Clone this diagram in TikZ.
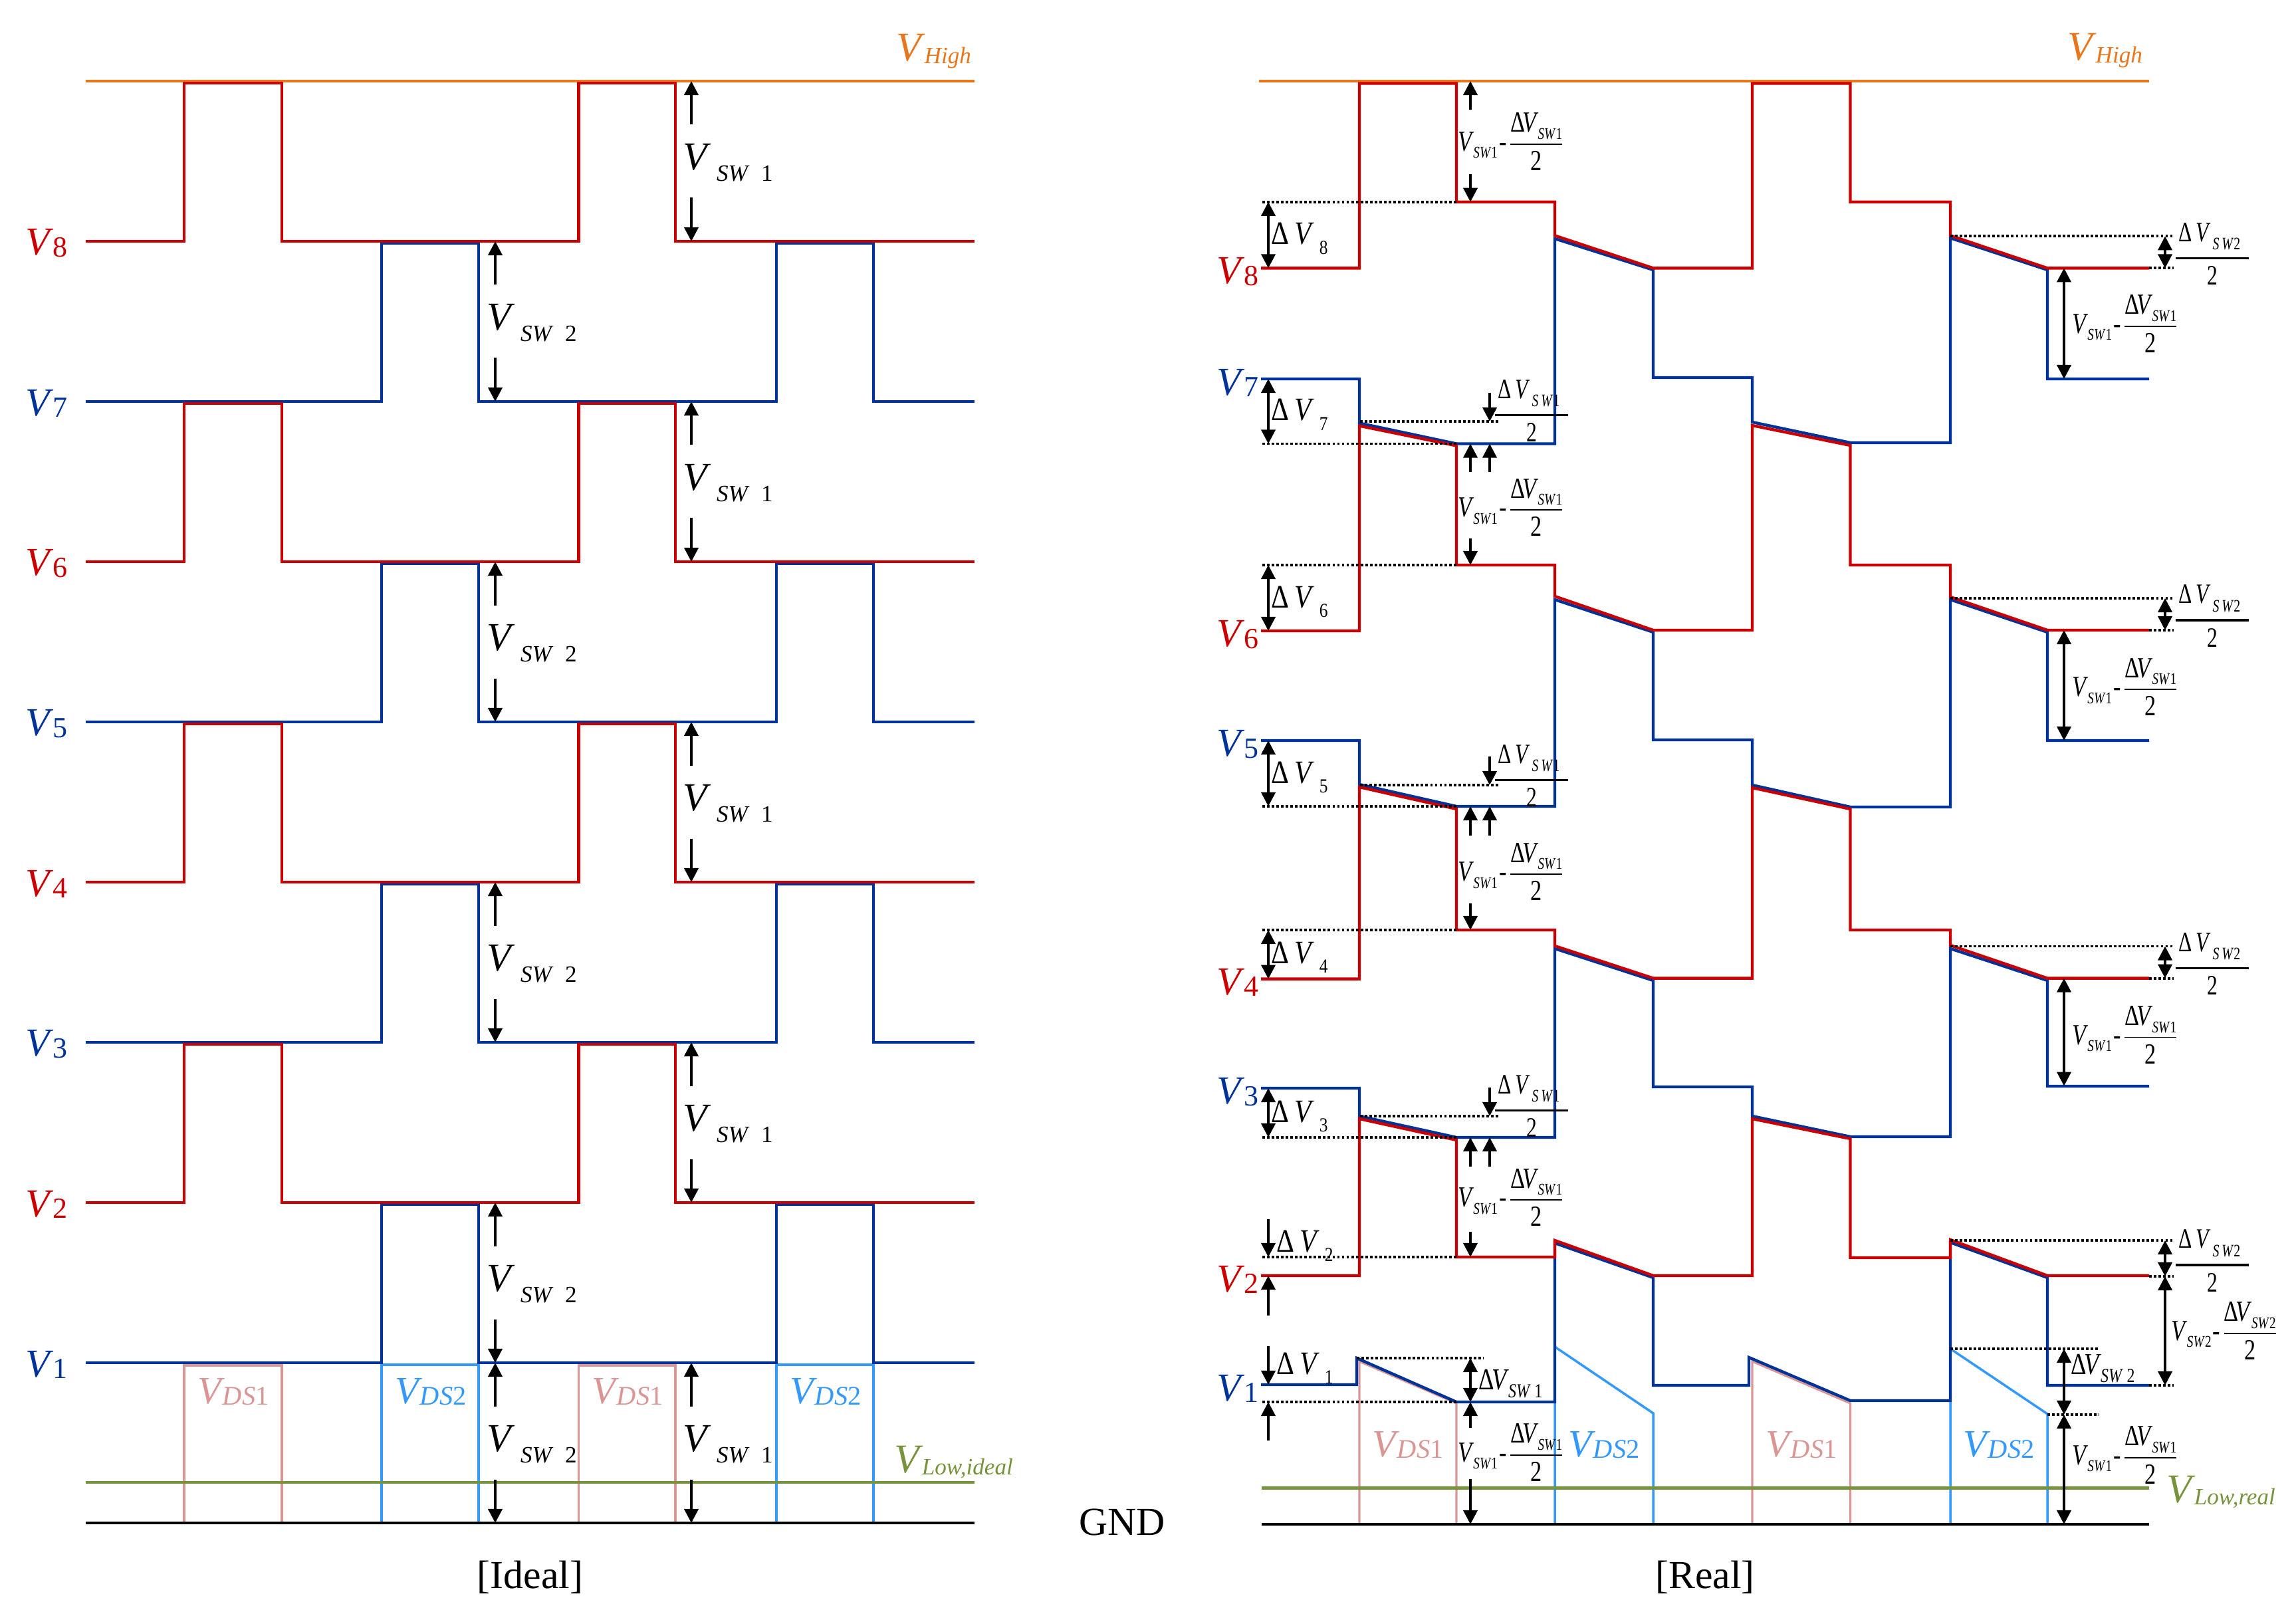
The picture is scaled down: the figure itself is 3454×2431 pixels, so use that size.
\documentclass[tikz,border=0pt]{standalone}
\usepackage{fontspec}
\setmainfont{Liberation Serif}
\usepackage{amsmath}
\usepackage{graphicx}
\usetikzlibrary{arrows.meta}

\definecolor{wred}{RGB}{204,0,0}
\definecolor{wblue}{RGB}{0,51,153}
\definecolor{worange}{RGB}{232,118,28}
\definecolor{wgreen}{RGB}{119,147,60}
\definecolor{wpink}{RGB}{217,150,148}
\definecolor{wlblue}{RGB}{51,153,255}

\newcommand\fsz[1]{\fontsize{#1}{#1}\selectfont}
\newcommand\LevLab[1]{\fsz{17}\textit{V}\kern-0.6pt\raisebox{-0.8pt}{\fsz{12.5}#1}}
\newcommand\RailLab[1]{\fsz{17.5}\textit{V}\kern-0.5pt\raisebox{-1pt}{\fsz{10}\textit{#1}}}
\newcommand\DsLab[1]{\fsz{16.5}\textit{V}\kern-1pt\raisebox{-0.8pt}{\fsz{11.5}\textit{DS}#1}}
\newcommand\SwLab[1]{\fsz{17}\textit{V}\kern2.5pt\raisebox{-4.8pt}{\fsz{10}\textit{SW}\kern5pt#1}}
\newcommand\DvLab[1]{\scalebox{0.85}[1]{\fsz{14}Δ\kern3pt\textit{V}\kern2.5pt\raisebox{-4pt}{\fsz{8.5}#1}}}
\newcommand\SubSW[1]{\raisebox{-3pt}{\fsz{7}\textit{SW}#1}}
\newcommand\MinusFrac[1]{\scalebox{0.78}[1]{\fsz{12.5}\textit{V}\kern-0.3pt\SubSW{#1}\kern0.8pt-\kern0.8pt$\dfrac{\text{Δ\kern-1.5pt\textit{V}\kern-0.3pt\SubSW{#1}}}{\text{2}}$}}
\newcommand\HalfFrac[1]{\scalebox{0.75}[1]{\fsz{12}$\genfrac{}{}{1pt}{0}{\text{\kern2pt Δ\kern2pt\textit{V}\kern1pt\raisebox{-3.5pt}{\fsz{7.5}\textit{S\kern1.5pt W}#1}\kern5pt}}{\text{2}}$}}
\newcommand\DvSw[1]{\scalebox{0.8}[1]{\fsz{13}Δ\kern-1pt\textit{V}\kern-0.5pt\raisebox{-3.5pt}{\fsz{8.5}\textit{SW}\kern2pt#1}}}

\tikzset{
  wave/.style={line width=1.25pt, line join=miter},
  railhigh/.style={line width=1.1pt, draw=worange},
  raillow/.style={line width=1.3pt, draw=wgreen},
  gndline/.style={line width=1.3pt, draw=black},
  vdsa/.style={line width=0.9pt, draw=wpink},
  vdsb/.style={line width=1.0pt, draw=wlblue},
  dotline/.style={line width=1.1pt, dash pattern=on 1.1pt off 0.9pt},
  onearrow/.style={line width=1.1pt, -{Triangle[length=6pt,width=6pt]}},
  twoarrow/.style={line width=1.1pt, {Triangle[length=6pt,width=6pt]}-{Triangle[length=6pt,width=6pt]}},
  lab/.style={inner sep=0pt, outer sep=0pt},
}

\begin{document}
\begin{tikzpicture}[x=0.01cm, y=-0.01cm]
\useasboundingbox (0,0) rectangle (3454,2431);

%================ LEFT PANEL (ideal) ================
\draw[vdsa] (277,2291) -- (277,2054) -- (424,2054) -- (424,2291);
\draw[vdsa] (870.5,2291) -- (870.5,2054) -- (1016,2054) -- (1016,2291);
\draw[vdsb] (574,2291) -- (574,2053) -- (720,2053) -- (720,2291);
\draw[vdsb] (1168,2291) -- (1168,2053) -- (1314,2053) -- (1314,2291);
\draw[raillow] (129,2230) -- (1466,2230);
\draw[railhigh] (129,122) -- (1466,122);
\foreach \b/\h in {604/366, 1086/848, 1568/1330, 2050/1812}
  \draw[wave, wblue] (129,\b) -- (574,\b) -- (574,\h) -- (720,\h) -- (720,\b) -- (1168,\b) -- (1168,\h) -- (1314,\h) -- (1314,\b) -- (1466,\b);
\foreach \b/\h in {363/125, 845/607, 1327/1089, 1809/1571}
  \draw[wave, wred] (129,\b) -- (277,\b) -- (277,\h) -- (424,\h) -- (424,\b) -- (870.5,\b) -- (870.5,\h) -- (1016,\h) -- (1016,\b) -- (1466,\b);
\draw[gndline] (129,2291) -- (1466,2291);

\node[lab, anchor=east, text=wred]  (lv8) at (101,366)  {\LevLab{8}};
\node[lab, anchor=east, text=wblue] (lv7) at (101,607)  {\LevLab{7}};
\node[lab, anchor=east, text=wred]  (lv6) at (101,848)  {\LevLab{6}};
\node[lab, anchor=east, text=wblue] (lv5) at (101,1089) {\LevLab{5}};
\node[lab, anchor=east, text=wred]  (lv4) at (101,1330) {\LevLab{4}};
\node[lab, anchor=east, text=wblue] (lv3) at (101,1571) {\LevLab{3}};
\node[lab, anchor=east, text=wred]  (lv2) at (101,1812) {\LevLab{2}};
\node[lab, anchor=east, text=wblue] (lv1) at (101,2053) {\LevLab{1}};

\foreach \t/\b [count=\i] in {122/363, 604/845, 1086/1327, 1568/1809, 2050/2291}{
  \pgfmathsetmacro\m{(\t+\b)/2}
  \draw[onearrow] (1040,{\m-55}) -- (1040,\t);
  \draw[onearrow] (1040,{\m+55}) -- (1040,\b);
  \node[lab, anchor=base west] (swa\i) at (1027,{\m+13}) {\SwLab{1}};
}
\foreach \t/\b [count=\i] in {363/604, 845/1086, 1327/1568, 1809/2050, 2050/2291}{
  \pgfmathsetmacro\m{(\t+\b)/2}
  \draw[onearrow] (745,{\m-55}) -- (745,\t);
  \draw[onearrow] (745,{\m+55}) -- (745,\b);
  \node[lab, anchor=base west] (swb\i) at (732,{\m+13}) {\SwLab{2}};
}

\node[lab, anchor=base east, text=worange] (vhl) at (1461,92) {\RailLab{High}};
\node[lab, anchor=base west, text=wgreen] (vll) at (1345,2215) {\RailLab{Low,ideal}};
\node[lab, anchor=base, text=wpink]  (dsa1) at (351,2111) {\DsLab{1}};
\node[lab, anchor=base, text=wlblue] (dsb1) at (648,2111) {\DsLab{2}};
\node[lab, anchor=base, text=wpink]  (dsa2) at (944,2111) {\DsLab{1}};
\node[lab, anchor=base, text=wlblue] (dsb2) at (1242,2111) {\DsLab{2}};
\node[lab, anchor=base] (ideal) at (797.5,2389) {\fsz{17}[Ideal]};
\node[lab, anchor=base] (gnd) at (1688,2309) {\fsz{17}GND};

%================ RIGHT PANEL (real) ================
\draw[vdsa] (2045,2293) -- (2045,2048) -- (2191,2111) -- (2191,2293);
\draw[vdsa] (2636,2293) -- (2636,2048) -- (2783.5,2111) -- (2783.5,2293);
\draw[vdsb] (2339,2293) -- (2339,2026) -- (2487,2126) -- (2487,2293);
\draw[vdsb] (2934,2293) -- (2934,2029) -- (3080,2127) -- (3080,2293);
\draw[raillow] (1898,2238.5) -- (3233,2238.5);
\draw[railhigh] (1894,122) -- (3233,122);

\draw[wave, wblue] (1897,570) -- (2045,570) -- (2045,636.5) -- (2191,667.5) -- (2339,667.5) -- (2339,359) -- (2487,406) -- (2487,568) -- (2636,568) -- (2636,635) -- (2783.5,666) -- (2934,666) -- (2934,358) -- (3080,406) -- (3080,570) -- (3233,570);
\draw[wave, wblue] (1897,1114) -- (2045,1114) -- (2045,1180) -- (2191,1213) -- (2339,1213) -- (2339,902) -- (2487,951) -- (2487,1113) -- (2636,1113) -- (2636,1181) -- (2783.5,1214) -- (2934,1214) -- (2934,902) -- (3080,951) -- (3080,1114) -- (3233,1114);
\draw[wave, wblue] (1897,1637) -- (2045,1637) -- (2045,1679) -- (2191,1711) -- (2339,1711) -- (2339,1427) -- (2487,1475) -- (2487,1635) -- (2636,1635) -- (2636,1679) -- (2783.5,1710) -- (2934,1710) -- (2934,1427) -- (3080,1475) -- (3080,1634) -- (3233,1634);
\draw[wave, wblue] (1897,2083) -- (2041,2083) -- (2041,2043) -- (2191,2109) -- (2339,2109) -- (2339,1870) -- (2487,1922) -- (2487,2084) -- (2631,2084) -- (2631,2042) -- (2783.5,2107) -- (2934,2107) -- (2934,1869) -- (3080,1922) -- (3080,2084) -- (3233,2084);
\draw[wave, wred] (1897,403.4) -- (2045,403.4) -- (2045,125.5) -- (2191,125.5) -- (2191,303.8) -- (2339,303.8) -- (2339,354.4) -- (2487,403.4) -- (2636,403.4) -- (2636,125.5) -- (2783.5,125.5) -- (2783.5,303.8) -- (2934,303.8) -- (2934,354.4) -- (3080,403.4) -- (3233,403.4);
\draw[wave, wred] (1897,949) -- (2045,949) -- (2045,640.6) -- (2191,670.5) -- (2191,850) -- (2339,850) -- (2339,897) -- (2487,948) -- (2636,948) -- (2636,640) -- (2783.5,670) -- (2783.5,850) -- (2934,850) -- (2934,898) -- (3080,948) -- (3233,948);
\draw[wave, wred] (1897,1472.6) -- (2045,1472.6) -- (2045,1184) -- (2191,1217) -- (2191,1399) -- (2339,1399) -- (2339,1423) -- (2487,1471.6) -- (2636,1471.6) -- (2636,1185) -- (2783.5,1217) -- (2783.5,1399) -- (2934,1399) -- (2934,1422) -- (3080,1471.6) -- (3233,1471.6);
\draw[wave, wred] (1897,1919) -- (2045,1919) -- (2045,1683) -- (2191,1715) -- (2191,1891) -- (2339,1891) -- (2339,1866) -- (2487,1919) -- (2636,1919) -- (2636,1683) -- (2783.5,1713) -- (2783.5,1892) -- (2934,1892) -- (2934,1865) -- (3080,1919) -- (3233,1919);
\draw[gndline] (1898,2293) -- (3233,2293);

\foreach \xa/\xb/\y in {1899/2191/303.8, 2046/2255/634, 1899/2191/667.5, 1899/2191/850, 2046/2255/1181, 1899/2191/1213, 1899/2191/1399, 2046/2255/1679, 1899/2191/1711, 1899/2191/1891, 2041/2232/2043, 1899/2191/2109, 2934/3270/355.4, 3233/3270/403.4, 2934/3270/900, 3233/3270/948, 2934/3270/1423.5, 3233/3270/1471.6, 2934/3270/1866, 3233/3270/1920, 3233/3270/2084, 2934/3158/2029, 3080/3158/2128}
  \draw[dotline] (\xa,\y) -- (\xb,\y);

\foreach \t/\b in {303.8/403.4, 570/667.5, 850/949, 1114/1213, 1399/1472.6, 1637/1711}
  \draw[twoarrow] (1908,\t) -- (1908,\b);
\draw[onearrow] (1908,1833.5) -- (1908,1891);
\draw[onearrow] (1908,1979) -- (1908,1919);
\draw[onearrow] (1908,2024.6) -- (1908,2083);
\draw[onearrow] (1908,2167) -- (1908,2109);

\foreach \t/\ta/\ba/\b in {122/165/262/303.8, 667.5/710/810/850, 1213/1257/1359/1399, 1711/1755/1853/1891, 2109/2147.6/2225/2293}{
  \draw[onearrow] (2212,\ta) -- (2212,\t);
  \draw[onearrow] (2212,\ba) -- (2212,\b);
}
\foreach \a/\b/\c/\d in {591.5/634/710/667.5, 1138/1181/1257/1213, 1636/1679/1755/1711}{
  \draw[onearrow] (2241,\a) -- (2241,\b);
  \draw[onearrow] (2241,\c) -- (2241,\d);
}
\draw[twoarrow] (2212,2043) -- (2212,2109);

\foreach \t/\b in {403.4/570, 948/1114, 1471.6/1633.6, 2029/2128, 2128/2293}
  \draw[twoarrow] (3105,\t) -- (3105,\b);
\foreach \t/\b in {355.4/403.4, 900/948, 1423.5/1471.6, 1866/1920, 1920/2084}
  \draw[twoarrow] (3257,\t) -- (3257,\b);

\node[lab, anchor=east, text=wred]  (rv8) at (1893,409)  {\LevLab{8}};
\node[lab, anchor=east, text=wblue] (rv7) at (1893,576)  {\LevLab{7}};
\node[lab, anchor=east, text=wred]  (rv6) at (1893,955)  {\LevLab{6}};
\node[lab, anchor=east, text=wblue] (rv5) at (1893,1120) {\LevLab{5}};
\node[lab, anchor=east, text=wred]  (rv4) at (1893,1478) {\LevLab{4}};
\node[lab, anchor=east, text=wblue] (rv3) at (1893,1643) {\LevLab{3}};
\node[lab, anchor=east, text=wred]  (rv2) at (1893,1925) {\LevLab{2}};
\node[lab, anchor=east, text=wblue] (rv1) at (1893,2089) {\LevLab{1}};

\node[lab, anchor=base west] (dv8) at (1912,368)  {\DvLab{8}};
\node[lab, anchor=base west] (dv7) at (1912,633)  {\DvLab{7}};
\node[lab, anchor=base west] (dv6) at (1912,914)  {\DvLab{6}};
\node[lab, anchor=base west] (dv5) at (1912,1178) {\DvLab{5}};
\node[lab, anchor=base west] (dv4) at (1912,1449) {\DvLab{4}};
\node[lab, anchor=base west] (dv3) at (1912,1688) {\DvLab{3}};
\node[lab, anchor=base west] (dv2) at (1920,1883) {\DvLab{2}};
\node[lab, anchor=base west] (dv1) at (1920,2067) {\DvLab{1}};

\node[lab, anchor=west] (mf1) at (2193,213)    {\MinusFrac{1}};
\node[lab, anchor=west] (mf2) at (2193,763.5)  {\MinusFrac{1}};
\node[lab, anchor=west] (mf3) at (2193,1311.4) {\MinusFrac{1}};
\node[lab, anchor=west] (mf4) at (2193,1801.5) {\MinusFrac{1}};
\node[lab, anchor=west] (mf5) at (2193,2185)   {\MinusFrac{1}};
\node[lab, anchor=west] (mf6) at (3117,487)    {\MinusFrac{1}};
\node[lab, anchor=west] (mf7) at (3117,1033.5) {\MinusFrac{1}};
\node[lab, anchor=west] (mf8) at (3117,1556.8) {\MinusFrac{1}};
\node[lab, anchor=west] (mf9) at (3117,2189)   {\MinusFrac{1}};
\node[lab, anchor=west] (mf10) at (3266.5,2002) {\MinusFrac{2}};

\node[lab] (hf1) at (2304,618)    {\HalfFrac{1}};
\node[lab] (hf2) at (2304,1167)   {\HalfFrac{1}};
\node[lab] (hf3) at (2304,1664)   {\HalfFrac{1}};
\node[lab] (hf4) at (3328,382)    {\HalfFrac{2}};
\node[lab] (hf5) at (3328,926.6)  {\HalfFrac{2}};
\node[lab] (hf6) at (3328,1450)   {\HalfFrac{2}};
\node[lab] (hf7) at (3328,1896.5) {\HalfFrac{2}};

\node[lab, anchor=base west] (dsw1) at (2224,2090) {\DvSw{1}};
\node[lab, anchor=base west] (dsw2) at (3115,2067) {\DvSw{2}};

\node[lab, anchor=base east, text=worange] (vhr) at (3223,91) {\RailLab{High}};
\node[lab, anchor=base west, text=wgreen] (vlr) at (3259,2260) {\RailLab{Low,real}};
\node[lab, anchor=base, text=wpink]  (rdsa1) at (2118,2191) {\DsLab{1}};
\node[lab, anchor=base, text=wlblue] (rdsb1) at (2413,2191) {\DsLab{2}};
\node[lab, anchor=base, text=wpink]  (rdsa2) at (2710,2191) {\DsLab{1}};
\node[lab, anchor=base, text=wlblue] (rdsb2) at (3007,2191) {\DsLab{2}};
\node[lab, anchor=base] (real) at (2565,2389) {\fsz{17}[Real]};
\end{tikzpicture}
\end{document}
